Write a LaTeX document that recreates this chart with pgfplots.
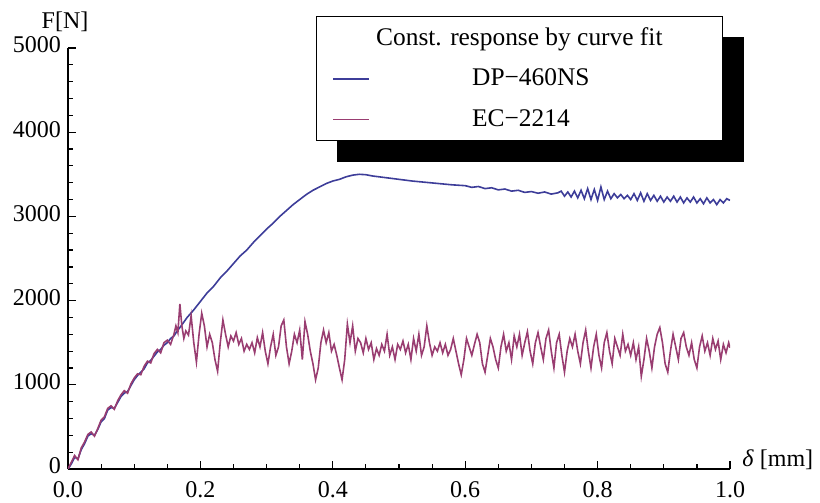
\documentclass[border=0pt]{standalone}
\usepackage{pgfplots}
\pgfplotsset{compat=1.18}
\usepackage{fontspec}
\setmainfont{Liberation Serif}
\usetikzlibrary{backgrounds}
\definecolor{mblue}{rgb}{0.24,0.24,0.6}
\definecolor{mred}{rgb}{0.6,0.24,0.442}
\begin{document}
\begin{tikzpicture}
\begin{axis}[
  scale only axis, width=331bp, height=210.5bp,
  xmin=0, xmax=1, ymin=0, ymax=5000,
  axis lines=left, axis line style={-, line width=0.8pt, black},
  xtick={0,0.2,0.4,0.6,0.8,1.0}, minor x tick num=3,
  ytick={0,1000,2000,3000,4000,5000}, minor y tick num=4,
  tick align=inside,
  major tick length=4bp, minor tick length=2.5bp,
  tick style={black, line width=0.6pt},
  /pgf/number format/assume math mode=true,
  xticklabel style={/pgf/number format/.cd, fixed, fixed zerofill, precision=1, /tikz/yshift=-2.5bp},
  yticklabel style={/pgf/number format/1000 sep={}, /tikz/yshift=1.5bp},
  tick label style={font=\fontsize{12bp}{14bp}\selectfont},
  xlabel={\textit{δ} [mm]},
  xlabel style={at={(axis description cs:1,0)}, anchor=west, xshift=6bp, yshift=4.5bp, inner sep=0pt, font=\fontsize{12bp}{14bp}\selectfont},
  ylabel={F[N]},
  ylabel style={at={(axis description cs:0,1)}, rotate=-90, anchor=south, xshift=-1.5bp, yshift=8bp, inner sep=0pt, font=\fontsize{12bp}{14bp}\selectfont},
  legend style={name=leg, at={(axis description cs:0.3746,1.076)}, anchor=north west,
    draw=black, line width=0.6pt, fill=white,
    inner xsep=8bp, inner ysep=3.5bp, row sep=6.3bp, column sep=1bp,
    font=\fontsize{12.7bp}{15bp}\selectfont},
  legend cell align=left,
  legend image code/.code={\draw[#1, line width=0.8pt] (0bp,0bp) -- (18bp,0bp);},
]
\addlegendimage{empty legend}
\addlegendentry{Const. response by curve fit\hspace*{20bp}}

\addplot[mblue, line width=0.8bp] coordinates {
(0,0) (0.005,60) (0.01,140) (0.015,120) (0.02,230) (0.025,300) (0.03,390) (0.035,420)
(0.04,400) (0.045,470) (0.05,560) (0.055,600) (0.06,700) (0.065,730) (0.07,720)
(0.075,790) (0.08,860) (0.085,900) (0.09,920) (0.095,990) (0.10,1060) (0.105,1110)
(0.11,1150) (0.115,1190) (0.12,1260) (0.125,1290) (0.13,1340) (0.135,1390) (0.14,1420)
(0.145,1470) (0.15,1500) (0.155,1550) (0.16,1580) (0.165,1640) (0.17,1690) (0.18,1800)
(0.19,1890) (0.20,1990) (0.21,2090) (0.22,2170) (0.23,2270) (0.24,2350) (0.25,2440)
(0.26,2530) (0.27,2600) (0.28,2690) (0.29,2770) (0.30,2850) (0.31,2920) (0.32,3000)
(0.33,3070) (0.34,3140) (0.35,3200) (0.36,3260) (0.37,3310) (0.38,3350) (0.39,3390)
(0.40,3420) (0.41,3440) (0.42,3470) (0.43,3490) (0.44,3500) (0.45,3495) (0.46,3480)
(0.48,3460) (0.50,3440) (0.52,3420) (0.54,3405) (0.56,3390) (0.58,3375) (0.60,3365)
(0.61,3345) (0.62,3355) (0.63,3330) (0.64,3340) (0.65,3315) (0.66,3325) (0.67,3300)
(0.68,3310) (0.69,3285) (0.70,3295) (0.71,3275) (0.72,3290) (0.73,3265) (0.74,3280)
(0.745,3300) (0.75,3240) (0.755,3290) (0.76,3230) (0.765,3300) (0.77,3220) (0.775,3310)
(0.78,3210) (0.785,3330) (0.79,3200) (0.795,3320) (0.80,3190) (0.805,3350) (0.81,3200)
(0.815,3300) (0.82,3210) (0.825,3270) (0.83,3220) (0.835,3260) (0.84,3210) (0.845,3250)
(0.85,3200) (0.855,3270) (0.86,3190) (0.865,3280) (0.87,3180) (0.875,3270) (0.88,3190)
(0.885,3250) (0.89,3180) (0.895,3240) (0.90,3170) (0.905,3230) (0.91,3180) (0.915,3240)
(0.92,3170) (0.925,3230) (0.93,3160) (0.935,3220) (0.94,3170) (0.945,3230) (0.95,3160)
(0.955,3210) (0.96,3150) (0.965,3220) (0.97,3160) (0.975,3200) (0.98,3140) (0.985,3200)
(0.99,3160) (0.995,3210) (1.0,3190)
};
\addlegendentry{\hspace*{48bp}DP−460NS}

\addplot[mred, line width=0.8bp] coordinates {
(0,0) (0.005,80) (0.01,160) (0.015,110) (0.02,250) (0.025,320) (0.03,410) (0.035,440)
(0.04,390) (0.045,480) (0.05,580) (0.055,620) (0.06,720) (0.065,750) (0.07,710)
(0.075,810) (0.08,880) (0.085,930) (0.09,900) (0.095,1010) (0.10,1080) (0.105,1130)
(0.11,1120) (0.115,1220) (0.12,1280) (0.125,1260) (0.13,1370) (0.135,1420) (0.14,1380)
(0.145,1500) (0.15,1530) (0.155,1480) (0.16,1600) (0.163,1700) (0.166,1620) (0.169,1960)
(0.172,1700) (0.175,1550) (0.178,1640) (0.182,1590) (0.186,1820) (0.19,1500) (0.194,1270)
(0.198,1600) (0.202,1850) (0.206,1700) (0.21,1450) (0.214,1600) (0.218,1500) (0.222,1300)
(0.226,1160) (0.23,1500) (0.234,1770) (0.238,1600) (0.242,1450) (0.246,1580) (0.25,1520)
(0.254,1620) (0.258,1480) (0.262,1550) (0.266,1400) (0.27,1480) (0.274,1420) (0.278,1500)
(0.282,1380) (0.286,1560) (0.29,1450) (0.294,1620) (0.298,1400) (0.302,1250) (0.306,1450)
(0.31,1600) (0.314,1350) (0.318,1450) (0.322,1700) (0.326,1770) (0.33,1450) (0.334,1250)
(0.338,1400) (0.342,1600) (0.346,1500) (0.35,1650) (0.354,1300) (0.358,1750) (0.362,1600)
(0.366,1400) (0.37,1250) (0.374,1060) (0.378,1200) (0.382,1500) (0.386,1650) (0.39,1500)
(0.394,1620) (0.398,1400) (0.402,1480) (0.406,1350) (0.41,1200) (0.414,1060) (0.418,1300)
(0.422,1720) (0.426,1500) (0.43,1700) (0.434,1400) (0.438,1550) (0.442,1500) (0.446,1380)
(0.45,1550) (0.454,1420) (0.458,1500) (0.462,1300) (0.466,1430) (0.47,1350) (0.474,1480)
(0.478,1400) (0.482,1600) (0.486,1350) (0.49,1450) (0.494,1300) (0.498,1480) (0.502,1420)
(0.506,1520) (0.51,1380) (0.514,1480) (0.518,1300) (0.522,1550) (0.526,1400) (0.53,1600)
(0.534,1350) (0.538,1450) (0.542,1700) (0.546,1500) (0.55,1350) (0.554,1450) (0.558,1400)
(0.562,1500) (0.566,1380) (0.57,1480) (0.574,1350) (0.578,1420) (0.582,1550) (0.586,1400)
(0.59,1250) (0.594,1120) (0.598,1300) (0.602,1550) (0.606,1450) (0.61,1350) (0.614,1480)
(0.618,1600) (0.622,1500) (0.626,1250) (0.63,1150) (0.634,1350) (0.638,1550) (0.642,1450)
(0.646,1300) (0.65,1200) (0.654,1450) (0.658,1600) (0.662,1400) (0.666,1500) (0.67,1300)
(0.674,1580) (0.678,1450) (0.682,1600) (0.686,1350) (0.69,1500) (0.694,1630) (0.698,1400)
(0.702,1250) (0.706,1500) (0.71,1620) (0.714,1450) (0.718,1300) (0.722,1550) (0.726,1650)
(0.73,1400) (0.734,1200) (0.738,1500) (0.742,1600) (0.746,1350) (0.75,1150) (0.754,1400)
(0.758,1550) (0.762,1450) (0.766,1600) (0.77,1400) (0.774,1250) (0.778,1500) (0.782,1650)
(0.786,1400) (0.79,1200) (0.794,1450) (0.798,1600) (0.802,1350) (0.806,1200) (0.81,1500)
(0.814,1620) (0.818,1400) (0.822,1250) (0.826,1550) (0.83,1450) (0.834,1350) (0.838,1600)
(0.842,1400) (0.846,1480) (0.85,1350) (0.854,1500) (0.858,1300) (0.862,1450) (0.866,1100)
(0.87,1300) (0.874,1550) (0.878,1400) (0.882,1200) (0.886,1450) (0.89,1600) (0.894,1680)
(0.898,1500) (0.902,1250) (0.906,1150) (0.91,1400) (0.914,1600) (0.918,1450) (0.922,1300)
(0.926,1550) (0.93,1620) (0.934,1450) (0.938,1350) (0.942,1500) (0.946,1300) (0.95,1200)
(0.954,1450) (0.958,1580) (0.962,1400) (0.966,1500) (0.97,1350) (0.974,1550) (0.978,1420)
(0.982,1520) (0.986,1300) (0.99,1480) (0.994,1380) (0.998,1500) (1.0,1440)
};
\addlegendentry{\hspace*{48bp}EC−2214}
\end{axis}
\begin{scope}[on background layer]
\fill[black] ([shift={(10.5bp,-10.5bp)}]leg.south west) rectangle ([shift={(10.5bp,-10.5bp)}]leg.north east);
\end{scope}
\pgfresetboundingbox
\path ([shift={(-34bp,-17bp)}]current axis.south west) rectangle ([shift={(376bp,234.5bp)}]current axis.south west);
\end{tikzpicture}
\end{document}
